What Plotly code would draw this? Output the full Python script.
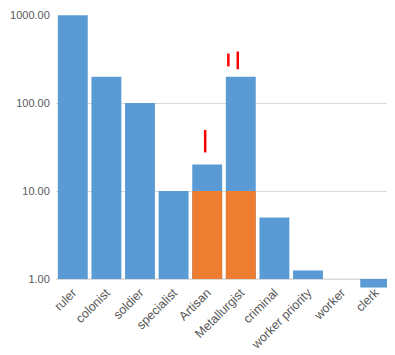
import math
import plotly.graph_objects as go

categories = ["ruler", "colonist", "soldier", "specialist", "Artisan",
              "Metallurgist", "criminal", "worker priority", "worker", "clerk"]
totals = [1000, 200, 100, 10, 20, 200, 5, 1.25, 1, 0.8]
orange_part = [None, None, None, None, 10, 10, None, None, None, None]
y_ticks = [1, 10, 100, 1000]
y_tick_labels = ["1.00", "10.00", "100.00", "1000.00"]

# red marker strokes: (category, x offset within category, y bottom, y top)
red_marks = [
    ("Artisan", -0.06, 27.5, 49.5),
    ("Metallurgist", -0.37, 262, 366),
    ("Metallurgist", -0.09, 243, 386),
]

BASE = 1
BLUE = "#5B9BD5"
ORANGE = "#ED7D31"
idx = {c: i for i, c in enumerate(categories)}
xs = list(range(len(categories)))

fig = go.Figure()
fig.add_trace(go.Bar(
    x=xs, y=[v - BASE for v in totals], base=BASE,
    marker=dict(color=BLUE, line=dict(width=0)), width=0.89, showlegend=False,
))
fig.add_trace(go.Bar(
    x=xs, y=[(v - BASE) if v is not None else None for v in orange_part], base=BASE,
    marker=dict(color=ORANGE, line=dict(width=0)), width=0.89, showlegend=False,
))
for cat, off, y0, y1 in red_marks:
    fig.add_trace(go.Scatter(
        x=[idx[cat] + off, idx[cat] + off], y=[y0, y1], mode="lines",
        line=dict(color="#FF0000", width=2.5), showlegend=False, hoverinfo="skip",
    ))

fig.add_shape(type="line", xref="paper", yref="y", x0=0, x1=1, y0=BASE, y1=BASE,
              line=dict(color="#D9D9D9", width=1), layer="below")

top = math.log10(1000) + 0.002
bottom = math.log10(0.75)

fig.update_layout(
    width=387, height=347,
    margin=dict(l=48, r=3, t=7, b=65),
    paper_bgcolor="white", plot_bgcolor="white",
    barmode="overlay",
    font=dict(family="Liberation Sans, Arial, sans-serif", size=12, color="#595959"),
    xaxis=dict(
        tickmode="array", tickvals=xs, ticktext=categories,
        tickangle=-45, range=[-0.5, len(categories) - 0.5],
        showgrid=False, showline=False, zeroline=False, ticks="",
        tickfont=dict(size=12.5, color="#595959"),
        automargin=False, ticklabelstandoff=-8,
    ),
    yaxis=dict(
        type="log", range=[bottom, top],
        tickmode="array", tickvals=y_ticks, ticktext=y_tick_labels,
        showgrid=True, gridcolor="#D9D9D9", gridwidth=1,
        showline=False, zeroline=False,
        ticks="outside", ticklen=3, tickcolor="rgba(0,0,0,0)",
        tickfont=dict(size=11, color="#595959"),
        automargin=False,
    ),
)

fig.write_html("out.html", config={"displayModeBar": False})
